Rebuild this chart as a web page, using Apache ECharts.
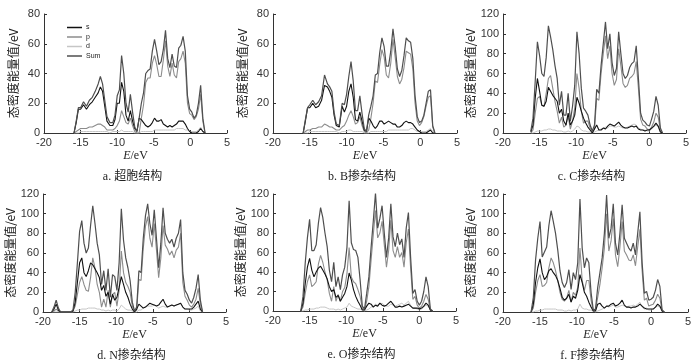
<!DOCTYPE html>
<html><head><meta charset="utf-8">
<script src="https://cdn.jsdelivr.net/npm/echarts@6/dist/echarts.min.js"></script>
<style>html,body{margin:0;padding:0;background:#fff}#c{width:700px;height:362px}</style>
</head><body><div id="c"></div>
<script>
// ---------- DATA ----------
const seriesNames = ['s', 'p', 'd', 'Sum'];
const captions = ['a. 超胞结构', 'b. B掺杂结构', 'c. C掺杂结构', 'd. N掺杂结构', 'e. O掺杂结构', 'f. F掺杂结构'];
const xTicks = [-20, -15, -10, -5, 0, 5];
const yMaxTop = 80, yMaxDoped = 120;

const energyAB = [-15.9,-15.6,-15.3,-15.0,-14.6,-14.2,-13.8,-13.4,-13.0,-12.6,-12.3,-12.0,-11.7,-11.4,-11.0,-10.6,-10.3,-10.0,-9.7,-9.4,-9.1,-8.8,-8.5,-8.2,-7.9,-7.6,-7.3,-7.0,-6.7,-6.4,-6.1,-5.8,-5.5,-5.2,-4.9,-4.6,-4.3,-4.0,-3.7,-3.4,-3.1,-2.8,-2.5,-2.2,-1.9,-1.6,-1.3,-1.0,-0.7,-0.4,-0.1,0.2,0.5,0.8,1.1,1.4,1.7,2.0];

const sumA = [0,8,17,17,21,18,22,24,28,33,38,33,22,11,7,7,12,25,29,52,40,20,14,26,14,4,1,10,20,27,40,42,43,55,63,55,46,48,56,69,50,44,53,45,44,57,59,65,55,25,16,14,10,12,20,32,10,0];
const sA   = [0,7,16,16,19,16,19,21,24,27,31,28,18,8,5,5,9,20,20,34,28,12,8,15,8,3,1,10,9,7,5,4,5,7,10,8,8,9,6,5,4,5,4,5,6,8,8,8,6,3,1,0,0,0,1,3,1,0];
const pA   = [0,1,2,3,3,3,4,4,5,6,6,5,4,2,2,2,3,5,8,15,11,7,6,10,5,1,0,0,10,19,34,37,37,47,52,46,38,38,49,62,45,38,47,39,37,48,50,55,47,20,13,12,9,11,16,26,8,0];
const dA   = [0,0,0,1,1,1,1,1,1,1,1,1,1,1,0,1,1,1,1,2,1,1,1,1,1,0,0,0,1,1,1,1,1,1,2,2,2,2,2,2,2,2,2,2,3,3,3,3,2,2,1,1,1,1,2,4,1,0];

const sumB = [0,9,17,19,22,19,21,25,39,33,31,28,14,6,5,20,19,26,38,48,35,15,15,25,13,3,1,12,18,25,39,40,54,64,58,45,45,55,70,58,43,38,42,52,64,62,61,50,25,11,7,8,12,20,28,29,5,0];
const sB   = [0,8,17,17,20,17,18,22,32,31,28,24,12,5,4,18,14,18,28,33,24,9,8,14,8,2,1,10,8,5,3,5,8,8,6,7,8,7,6,6,4,4,5,7,8,7,7,6,4,2,1,0,0,0,1,2,0,0];
const pB   = [0,1,2,2,3,3,4,4,6,5,4,4,3,2,2,4,5,8,12,15,11,6,7,11,5,1,0,2,10,20,35,34,46,56,51,39,37,47,63,51,38,33,36,44,55,54,53,43,20,8,5,7,11,18,24,25,4,0];
const dB   = [0,0,0,1,1,1,1,1,1,1,1,1,1,1,0,1,1,1,2,2,1,1,1,1,1,0,0,0,1,1,1,1,1,1,1,1,2,2,2,2,2,2,2,2,2,2,3,3,2,1,1,1,1,1,2,3,1,0];

const energyCEF = [-16.2,-15.9,-15.6,-15.3,-15.0,-14.7,-14.4,-14.1,-13.8,-13.5,-13.2,-12.9,-12.6,-12.3,-12.0,-11.7,-11.4,-11.1,-10.8,-10.5,-10.2,-9.9,-9.6,-9.3,-9.0,-8.7,-8.4,-8.1,-7.8,-7.5,-7.2,-6.9,-6.6,-6.3,-6.0,-5.7,-5.4,-5.1,-4.8,-4.5,-4.2,-3.9,-3.6,-3.3,-3.0,-2.7,-2.4,-2.1,-1.8,-1.5,-1.2,-0.9,-0.6,-0.3,0.0,0.3,0.6,0.9,1.2,1.5,1.8];

const sumC = [2,15,52,92,78,60,57,76,108,97,84,68,55,28,42,18,18,40,12,27,48,102,80,45,25,22,18,8,2,8,44,40,68,90,112,85,100,71,58,65,102,80,60,55,58,66,70,72,88,55,20,13,11,8,7,14,22,37,28,5,0];
const sC   = [1,8,35,55,42,28,27,32,46,42,38,35,32,20,24,12,8,20,8,12,18,36,30,22,15,10,6,3,0,4,8,3,3,5,4,7,9,8,7,9,11,8,6,5,5,6,7,6,7,4,3,3,2,3,3,5,7,10,7,1,0];
const pC   = [0,3,20,35,37,28,27,40,55,58,45,32,22,10,16,6,8,17,4,12,25,60,45,22,10,12,12,5,1,4,35,33,60,80,98,75,88,60,48,54,85,68,50,46,48,55,57,60,72,45,14,8,7,4,3,6,11,20,16,3,0];
const dC   = [0,0,1,2,2,2,3,3,4,4,3,3,2,2,2,1,1,2,1,2,4,7,6,3,2,2,1,1,0,1,2,3,4,5,6,5,7,7,6,6,7,6,5,5,6,7,8,9,8,5,4,3,3,2,2,4,6,8,6,1,0];

const energyD = [-18.8,-18.5,-18.2,-17.9,-17.6,-16.2,-15.9,-15.6,-15.3,-15.0,-14.7,-14.4,-14.1,-13.8,-13.5,-13.2,-12.9,-12.6,-12.3,-12.0,-11.7,-11.4,-11.1,-10.8,-10.5,-10.2,-9.9,-9.6,-9.3,-9.0,-8.7,-8.4,-8.1,-7.8,-7.5,-7.2,-6.9,-6.6,-6.3,-6.0,-5.7,-5.4,-5.1,-4.8,-4.5,-4.2,-3.9,-3.6,-3.3,-3.0,-2.7,-2.4,-2.1,-1.8,-1.5,-1.2,-0.9,-0.6,-0.3,0.0,0.3,0.6,0.9,1.2,1.5,1.8];
const sumD = [0,5,12,4,0, 0,2,20,50,82,93,70,60,65,88, 108,90,70,58,28,42,22,44,15,38, 36,22,50,105,73,55,45,32,10,1, 5,42,40,75,98,110,90,78,104,75, 45,70,106,80,74,70,74,66,75,80, 94,40,22,18,12,9,15,24,38,12, 0];
const sD   = [0,3,8,2,0, 0,1,10,30,50,55,40,36,42,50, 48,44,40,35,22,27,16,20,8,18, 12,15,25,36,28,20,15,8,3,0, 3,8,6,4,5,7,9,8,7,6, 7,10,13,8,5,6,7,6,7,8, 9,5,3,3,3,3,5,8,11,3, 0];
const pD   = [0,1,3,1,0, 0,1,6,18,30,36,28,22,21,35, 55,45,28,20,5,13,5,22,5,18, 20,6,22,62,40,30,26,20,6,1, 2,33,32,65,87,97,75,66,90,63, 35,55,88,68,64,58,62,55,63,66, 80,30,16,12,7,5,8,13,24,8, 0];
const dD   = [0,0,0,0,0, 0,0,1,2,2,3,3,3,4,4, 4,4,3,3,2,2,1,2,1,2, 2,1,3,7,5,3,2,2,1,0, 0,2,2,4,5,6,6,6,7,6, 4,5,6,5,5,6,7,6,7,8, 9,5,3,3,2,2,3,4,6,1, 0];

const sumE = [0,15,49,75,94,62,62,68,90,106, 96,80,66,42,30,50,25,35,22,37, 45,65,113,70,63,62,55,32,5,2, 18,35,65,92,121,85,95,108,80,55, 75,110,76,66,80,68,74,55,85,101, 55,18,22,10,6,10,20,35,25,2, 0];
const sE   = [0,8,28,45,54,42,35,40,44,46, 42,38,33,25,20,22,14,16,10,14, 18,25,39,32,22,15,10,6,1,1, 5,8,7,4,6,5,8,6,5,6, 8,10,7,4,4,5,4,5,6,7, 5,3,3,3,2,3,5,8,6,1, 0];
const pE   = [0,4,18,30,37,25,27,30,48,57, 50,40,32,18,10,25,10,17,10,20, 24,38,65,35,30,28,22,15,3,1, 10,25,52,78,103,75,80,92,68,45, 62,93,62,55,66,55,60,45,70,84, 44,12,15,6,3,5,10,17,12,1, 0];
const dE   = [0,0,1,1,2,2,2,3,3,4, 4,4,3,2,2,2,1,2,1,2, 3,4,8,5,4,3,2,2,1,0, 1,2,4,5,7,6,7,8,6,5, 5,7,6,5,6,7,8,6,8,10, 6,3,3,2,1,2,4,6,5,1, 0];

const sumF = [0,15,53,75,92,56,61,66,88,103, 92,80,63,42,30,25,30,43,23,40, 33,50,115,65,45,55,50,20,2,3, 25,40,55,80,119,75,85,110,70,58, 80,109,75,70,65,62,70,58,80,102, 50,19,21,12,13,15,22,33,26,2, 0];
const sF   = [0,8,30,45,54,40,33,36,42,44, 40,37,32,24,15,12,14,18,10,16, 14,22,38,30,20,16,10,5,1,1, 8,9,6,4,6,6,8,9,6,7, 9,12,7,5,5,4,5,5,6,8, 6,4,3,3,3,3,5,8,6,1, 0];
const pF   = [0,4,20,32,38,26,27,30,45,55, 50,42,32,20,13,11,14,22,10,20, 17,25,65,32,22,32,32,12,1,2, 15,28,45,65,100,62,72,95,58,46, 66,92,62,58,53,52,58,47,66,84, 42,12,14,6,7,8,12,18,14,1, 0];
const dF   = [0,0,1,1,2,2,3,3,3,3, 3,3,2,2,2,1,1,2,1,2, 2,3,8,4,3,3,2,2,1,0, 1,2,3,4,6,5,6,7,5,5, 6,7,6,5,6,6,7,6,8,10, 5,3,4,2,2,3,5,6,5,1, 0];

// ---------- LAYOUT / STYLE ----------
const panels = [
  {E: energyAB,  s: sA, p: pA, d: dA, sum: sumA, yMax: yMaxTop,    g: {left: 44,  top: 14,  width: 183, height: 119}},
  {E: energyAB,  s: sB, p: pB, d: dB, sum: sumB, yMax: yMaxTop,    g: {left: 273, top: 14,  width: 184, height: 119}},
  {E: energyCEF, s: sC, p: pC, d: dC, sum: sumC, yMax: yMaxDoped,  g: {left: 503, top: 14,  width: 183, height: 119}},
  {E: energyD,   s: sD, p: pD, d: dD, sum: sumD, yMax: yMaxDoped,  g: {left: 43,  top: 194, width: 183, height: 118}},
  {E: energyCEF, s: sE, p: pE, d: dE, sum: sumE, yMax: yMaxDoped,  g: {left: 273, top: 194, width: 183, height: 117}},
  {E: energyCEF, s: sF, p: pF, d: dF, sum: sumF, yMax: yMaxDoped,  g: {left: 503, top: 194, width: 185, height: 118}}
];
const colors = {s: '#111111', p: '#8c8c8c', d: '#c6c6c6', Sum: '#4f4f4f'};
const widths = {s: 1.1, p: 1.1, d: 1.0, Sum: 1.2};
const axisColor = '#333';
const tickFont = 'Liberation Sans';

const zip = (xs, ys) => xs.map((x, i) => [x, ys[i]]);

const grids = [], xAxes = [], yAxes = [], series = [], graphics = [];
panels.forEach((P, i) => {
  grids.push(Object.assign({containLabel: false}, P.g));
  xAxes.push({
    gridIndex: i, type: 'value', min: xTicks[0], max: xTicks[xTicks.length - 1], interval: 5,
    name: '{i|E}/eV', nameLocation: 'middle', nameGap: 17,
    nameTextStyle: {fontFamily: 'Liberation Serif', fontSize: 12, color: '#222',
      rich: {i: {fontFamily: 'Liberation Serif', fontStyle: 'italic', fontSize: 12, color: '#222'}}},
    axisLine: {show: true, onZero: false, lineStyle: {color: axisColor, width: 1}},
    axisTick: {show: true, inside: true, length: 3, lineStyle: {color: axisColor}},
    axisLabel: {fontSize: 11, color: '#333', fontFamily: tickFont, margin: 4},
    splitLine: {show: false}
  });
  yAxes.push({
    gridIndex: i, type: 'value', min: 0, max: P.yMax, interval: 20,
    name: '态密度能量值/eV', nameLocation: 'middle', nameGap: 25,
    nameTextStyle: {fontFamily: 'Noto Sans CJK SC', fontSize: 12, color: '#222'},
    axisLine: {show: true, onZero: false, lineStyle: {color: axisColor, width: 1}},
    axisTick: {show: true, inside: true, length: 3, lineStyle: {color: axisColor}},
    axisLabel: {fontSize: 11, color: '#333', fontFamily: tickFont, margin: 4},
    splitLine: {show: false}
  });
  const order = [['d', P.d], ['p', P.p], ['s', P.s], ['Sum', P.sum]];
  order.forEach(([nm, vals]) => {
    series.push({
      name: nm, type: 'line', xAxisIndex: i, yAxisIndex: i,
      data: zip(P.E, vals), symbol: 'none', showSymbol: false, smooth: false,
      lineStyle: {color: colors[nm], width: widths[nm]},
      itemStyle: {color: colors[nm]},
      animation: false, silent: true
    });
  });
  graphics.push({
    type: 'text',
    x: P.g.left + P.g.width / 2 - 3, y: P.g.top + P.g.height + 44,
    style: {text: captions[i], font: '12px "Liberation Serif", "Noto Sans CJK SC"', fill: '#222',
      textAlign: 'center', textVerticalAlign: 'middle'}
  });
});

const chart = echarts.init(document.getElementById('c'), null, {renderer: 'canvas'});
chart.setOption({
  animation: false,
  backgroundColor: '#fff',
  grid: grids, xAxis: xAxes, yAxis: yAxes, series: series,
  legend: {
    data: seriesNames.map(n => ({name: n, icon: 'rect', itemStyle: {color: colors[n]}})),
    orient: 'vertical', left: 62, top: 19,
    itemWidth: 15, itemHeight: 1.5, itemGap: 2.5,
    textStyle: {fontSize: 7, fontFamily: 'Liberation Sans', color: '#222', padding: [0, 0, 0, -1], lineHeight: 7},
    selectedMode: false
  },
  graphic: graphics
});
</script></body></html>
